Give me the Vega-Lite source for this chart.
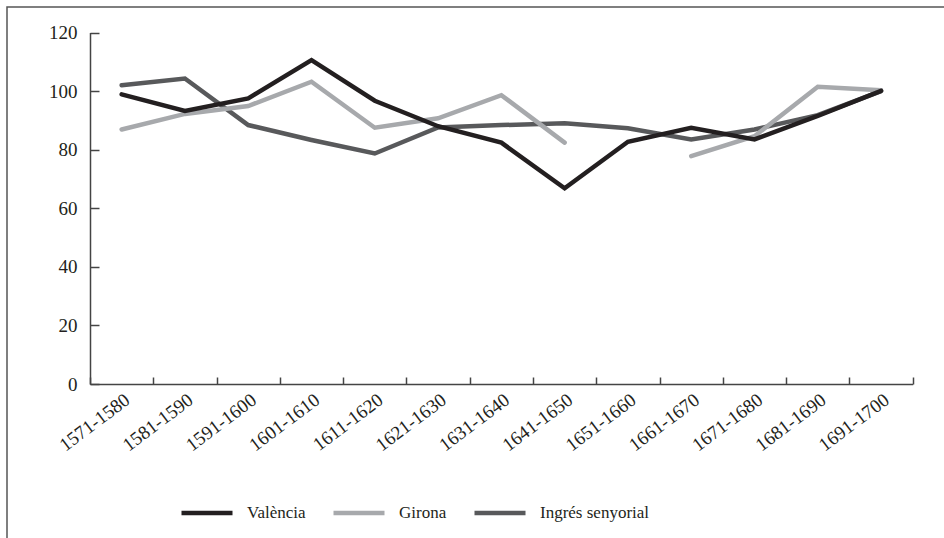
{
  "$schema": "https://vega.github.io/schema/vega-lite/v6.json",
  "width": 937,
  "height": 531,
  "autosize": {"type": "none"},
  "padding": {"left": 7, "top": 7, "right": 0, "bottom": 0},
  "background": "white",
  "config": {
    "view": {"stroke": "#555555", "strokeWidth": 1.5, "strokeDash": [937, 1468, 531]},
    "font": "Liberation Serif",
    "axis": {"labelFont": "Liberation Serif", "labelColor": "#231f20", "domainColor": "#444444", "tickColor": "#444444", "domainWidth": 1.5, "tickWidth": 1.5, "grid": false, "title": null}
  },
  "data": {
    "values": [
      {"period": "1571-1580", "serie": "València", "value": 98.9},
      {"period": "1581-1590", "serie": "València", "value": 93.2},
      {"period": "1591-1600", "serie": "València", "value": 97.5},
      {"period": "1601-1610", "serie": "València", "value": 110.6},
      {"period": "1611-1620", "serie": "València", "value": 96.7},
      {"period": "1621-1630", "serie": "València", "value": 88.0},
      {"period": "1631-1640", "serie": "València", "value": 82.4},
      {"period": "1641-1650", "serie": "València", "value": 66.8},
      {"period": "1651-1660", "serie": "València", "value": 82.7},
      {"period": "1661-1670", "serie": "València", "value": 87.5},
      {"period": "1671-1680", "serie": "València", "value": 83.5},
      {"period": "1681-1690", "serie": "València", "value": 91.5},
      {"period": "1691-1700", "serie": "València", "value": 100.1},
      {"period": "1571-1580", "serie": "Girona", "value": 86.9},
      {"period": "1581-1590", "serie": "Girona", "value": 92.2},
      {"period": "1591-1600", "serie": "Girona", "value": 94.9},
      {"period": "1601-1610", "serie": "Girona", "value": 103.2},
      {"period": "1611-1620", "serie": "Girona", "value": 87.5},
      {"period": "1621-1630", "serie": "Girona", "value": 90.7},
      {"period": "1631-1640", "serie": "Girona", "value": 98.6},
      {"period": "1641-1650", "serie": "Girona", "value": 82.4},
      {"period": "1651-1660", "serie": "Girona", "value": null},
      {"period": "1661-1670", "serie": "Girona", "value": 77.8},
      {"period": "1671-1680", "serie": "Girona", "value": 84.6},
      {"period": "1681-1690", "serie": "Girona", "value": 101.5},
      {"period": "1691-1700", "serie": "Girona", "value": 100.3},
      {"period": "1571-1580", "serie": "Ingrés senyorial", "value": 102.0},
      {"period": "1581-1590", "serie": "Ingrés senyorial", "value": 104.3},
      {"period": "1591-1600", "serie": "Ingrés senyorial", "value": 88.4},
      {"period": "1601-1610", "serie": "Ingrés senyorial", "value": 83.3},
      {"period": "1611-1620", "serie": "Ingrés senyorial", "value": 78.7},
      {"period": "1621-1630", "serie": "Ingrés senyorial", "value": 87.6},
      {"period": "1631-1640", "serie": "Ingrés senyorial", "value": 88.4},
      {"period": "1641-1650", "serie": "Ingrés senyorial", "value": 89.0},
      {"period": "1651-1660", "serie": "Ingrés senyorial", "value": 87.3},
      {"period": "1661-1670", "serie": "Ingrés senyorial", "value": 83.5},
      {"period": "1671-1680", "serie": "Ingrés senyorial", "value": 86.9},
      {"period": "1681-1690", "serie": "Ingrés senyorial", "value": 91.8},
      {"period": "1691-1700", "serie": "Ingrés senyorial", "value": 100.0}
    ]
  },
  "encoding": {
    "x": {
      "field": "period", "type": "nominal", "sort": null, "bandPosition": 0.5,
      "scale": {"type": "band", "range": [83, 905.7], "paddingInner": 0, "paddingOuter": 0},
      "axis": {"tickBand": "extent", "tickSize": -7, "labelAngle": -37, "labelFontSize": 19, "labelPadding": 13, "offset": -154}
    },
    "y": {
      "field": "value", "type": "quantitative",
      "scale": {"domain": [0, 120], "range": [377, 25.5], "nice": false},
      "axis": {"values": [0, 20, 40, 60, 80, 100, 120], "tickSize": -9, "labelFontSize": 19, "labelPadding": 22, "offset": -83}
    },
    "color": {
      "field": "serie", "type": "nominal",
      "scale": {"domain": ["València", "Girona", "Ingrés senyorial"], "range": ["#231f20", "#a7a9ac", "#58595b"]},
      "legend": {"orient": "none", "legendX": 172, "legendY": 478, "direction": "horizontal", "title": null, "symbolType": "stroke", "symbolSize": 2601, "symbolStrokeWidth": 4.5, "labelFont": "Liberation Serif", "labelFontSize": 17, "labelColor": "#231f20", "labelOffset": 12, "columnPadding": 18, "padding": 0}
    }
  },
  "layer": [
    {"transform": [{"filter": "datum.serie === 'Ingrés senyorial'"}], "mark": {"type": "line", "strokeWidth": 4.5, "strokeCap": "round"}},
    {"transform": [{"filter": "datum.serie === 'Girona'"}], "mark": {"type": "line", "strokeWidth": 4.5, "strokeCap": "round"}},
    {"transform": [{"filter": "datum.serie === 'València'"}], "mark": {"type": "line", "strokeWidth": 4.5, "strokeCap": "round"}}
  ]
}
